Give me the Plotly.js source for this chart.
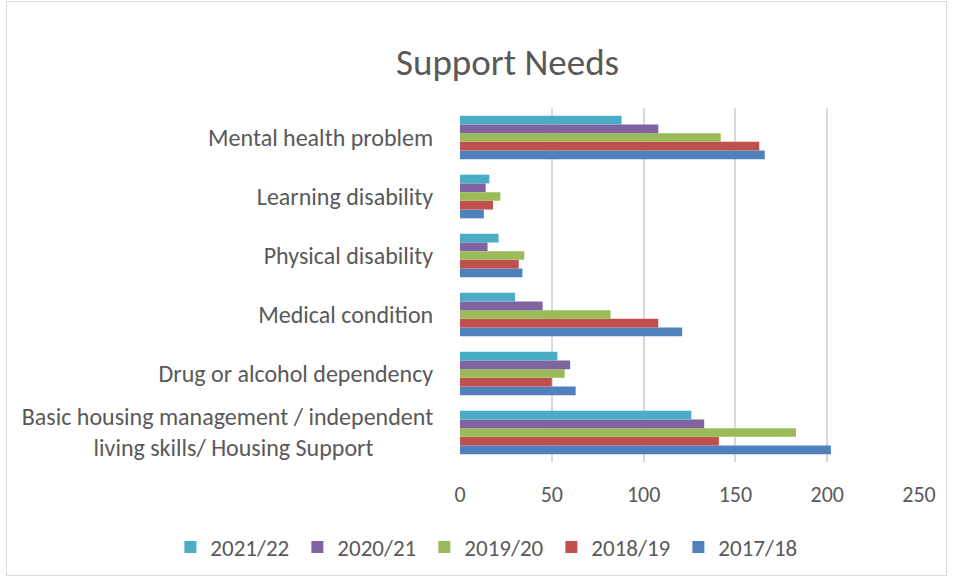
<!DOCTYPE html>
<html>
<head>
<meta charset="utf-8">
<script src="https://cdn.plot.ly/plotly-3.0.1.min.js"></script>
<style>
html,body{margin:0;padding:0;background:#fff;}
#chart{width:954px;height:578px;position:relative;}
#frame{position:absolute;left:6px;top:1px;width:941px;height:575px;border:1px solid #d9d9d9;pointer-events:none;box-sizing:border-box;}
</style>
</head>
<body>
<div id="chart"></div>
<div id="frame"></div>
<script>
const categories = [
  "Basic housing management / independent<br>living skills/ Housing Support           ",
  "Drug or alcohol dependency",
  "Medical condition",
  "Physical disability",
  "Learning disability",
  "Mental health problem"
];
const seriesNames = ["2017/18", "2018/19", "2019/20", "2020/21", "2021/22"];
const v2017_18 = [202, 63, 121, 34, 13, 166];
const v2018_19 = [141, 50, 108, 32, 18, 163];
const v2019_20 = [183, 57, 82, 35, 22, 142];
const v2020_21 = [133, 60, 45, 15, 14, 108];
const v2021_22 = [126, 53, 30, 21, 16, 88];
const colors = ["#4F81BD", "#C0504D", "#9BBB59", "#8064A2", "#4BACC6"];
const xTicks = [0, 50, 100, 150, 200, 250];

const values = [v2017_18, v2018_19, v2019_20, v2020_21, v2021_22];
const traces = seriesNames.map((n, i) => ({
  type: "bar",
  orientation: "h",
  name: n,
  y: categories,
  x: values[i],
  marker: {color: colors[i], line: {width: 0}},
  hoverinfo: "x+name"
}));

const font = "Calibri, Carlito, Lato, 'Open Sans', sans-serif";
const layout = {
  width: 954, height: 578,
  margin: {l: 460, r: 35, t: 108, b: 116, autoexpand: false},
  paper_bgcolor: "#ffffff", plot_bgcolor: "#ffffff",
  barmode: "group", bargap: 0.26, bargroupgap: 0,
  title: {text: "Support Needs", x: 0.532, xanchor: "center", y: 0.893, yanchor: "middle",
          font: {family: font, size: 37, color: "#595959"}},
  xaxis: {range: [0, 250], tickvals: xTicks, ticktext: xTicks.map(String),
          showgrid: true, gridcolor: "#d9d9d9", gridwidth: 2, zeroline: false,
          showline: false, ticks: "outside", ticklen: 13, tickcolor: "rgba(0,0,0,0)",
          tickfont: {family: font, size: 22, color: "#595959"}, automargin: false},
  yaxis: {type: "category", categoryorder: "array", categoryarray: categories,
          showgrid: false, zeroline: false, showline: false,
          ticks: "outside", ticklen: 21, tickcolor: "rgba(0,0,0,0)",
          tickfont: {family: font, size: 24, color: "#595959"}, automargin: false},
  legend: {orientation: "h", traceorder: "reversed",
           x: -0.631, xanchor: "left", y: -0.24, yanchor: "middle",
           font: {family: font, size: 23, color: "#595959"}, itemwidth: 30, tracegroupgap: 0,
           entrywidth: 82, entrywidthmode: "pixels"},
  showlegend: true
};
Plotly.newPlot("chart", traces, layout, {displayModeBar: false, staticPlot: true});
</script>
</body>
</html>
